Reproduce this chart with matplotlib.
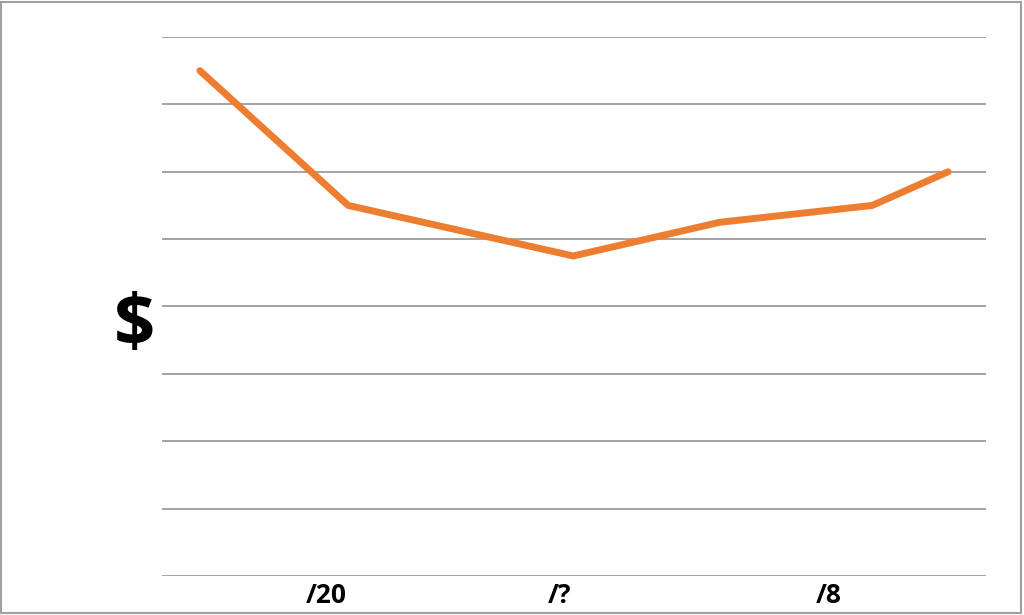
import matplotlib
matplotlib.use("Agg")
import matplotlib.pyplot as plt
from matplotlib.patches import Rectangle

# Data (x positions on a 0-100 scale across the plot width, y in gridline units)
x_vals = [4.6, 22.6, 49.9, 67.7, 86.2, 95.4]
y_vals = [7.5, 5.5, 4.75, 5.25, 5.5, 6.0]
tick_pos = [20.0, 48.3, 80.9]
tick_labels = ["/20", "/?", "/8"]
y_grid = [0, 1, 2, 3, 4, 5, 6, 7, 8]

plt.rcParams['font.family'] = ['Open Sans', 'DejaVu Sans']

fig = plt.figure(figsize=(10.24, 6.15), dpi=100)
ax = fig.add_axes([162/1024, (615-576)/615, 824/1024, 539/615])

ax.plot(x_vals, y_vals, color="#ED7D31", linewidth=5.0, solid_capstyle="round",
        solid_joinstyle="miter", zorder=3)

ax.set_xlim(0, 100)
ax.set_ylim(0, 8)
ax.set_yticks(y_grid)
ax.set_yticklabels([])
ax.yaxis.grid(True, color="#8a8a8a", linewidth=1.1)
ax.tick_params(axis="y", length=0)
ax.set_xticks(tick_pos)
ax.set_xticklabels(tick_labels, fontsize=19, fontweight="bold")
ax.tick_params(axis="x", length=0, pad=4)
for s in ax.spines.values():
    s.set_visible(False)
ax.set_axisbelow(True)

ax.text(-0.033, 0.462, "$", transform=ax.transAxes, fontsize=52, fontweight="bold",
        ha="center", va="center")

fig.patches.append(Rectangle((1/1024, 2/615), 1020/1024, 611/615, transform=fig.transFigure,
                             fill=False, edgecolor="#a0a0a0", linewidth=1.5))

fig.savefig("out.png", dpi=100)
